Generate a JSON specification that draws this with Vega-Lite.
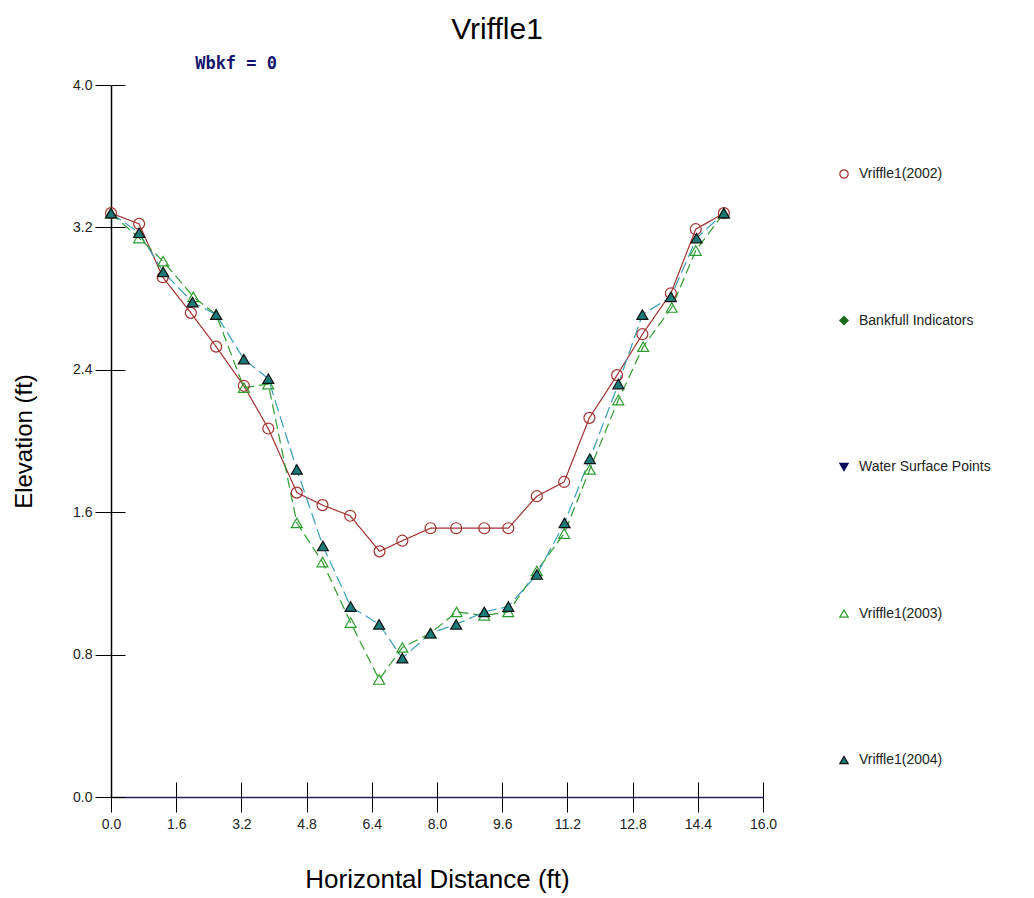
{
  "$schema": "https://vega.github.io/schema/vega-lite/v6.json",
  "width": 652,
  "height": 712,
  "autosize": {"type": "none"},
  "padding": {"left": 111, "top": 85, "right": 271, "bottom": 101},
  "background": "white",
  "config": {
    "view": {"stroke": null},
    "font": "Liberation Sans"
  },
  "title": {
    "text": "Vriffle1",
    "fontSize": 30,
    "fontWeight": "normal",
    "font": "Liberation Sans",
    "color": "#000000",
    "anchor": "middle",
    "dx": 60,
    "offset": 10
  },
  "resolve": {"axis": {"x": "independent", "y": "independent"}},
  "data": {
    "values": [
      {"series": "Vriffle1(2002)", "x": 0.0, "y": 3.28},
      {"series": "Vriffle1(2002)", "x": 0.69, "y": 3.22},
      {"series": "Vriffle1(2002)", "x": 1.27, "y": 2.92},
      {"series": "Vriffle1(2002)", "x": 1.96, "y": 2.72},
      {"series": "Vriffle1(2002)", "x": 2.58, "y": 2.53},
      {"series": "Vriffle1(2002)", "x": 3.26, "y": 2.31},
      {"series": "Vriffle1(2002)", "x": 3.86, "y": 2.07},
      {"series": "Vriffle1(2002)", "x": 4.56, "y": 1.71},
      {"series": "Vriffle1(2002)", "x": 5.19, "y": 1.64},
      {"series": "Vriffle1(2002)", "x": 5.87, "y": 1.58},
      {"series": "Vriffle1(2002)", "x": 6.59, "y": 1.38},
      {"series": "Vriffle1(2002)", "x": 7.15, "y": 1.44},
      {"series": "Vriffle1(2002)", "x": 7.84, "y": 1.51},
      {"series": "Vriffle1(2002)", "x": 8.47, "y": 1.51},
      {"series": "Vriffle1(2002)", "x": 9.16, "y": 1.51},
      {"series": "Vriffle1(2002)", "x": 9.75, "y": 1.51},
      {"series": "Vriffle1(2002)", "x": 10.45, "y": 1.69},
      {"series": "Vriffle1(2002)", "x": 11.12, "y": 1.77},
      {"series": "Vriffle1(2002)", "x": 11.74, "y": 2.13},
      {"series": "Vriffle1(2002)", "x": 12.42, "y": 2.37},
      {"series": "Vriffle1(2002)", "x": 13.04, "y": 2.6},
      {"series": "Vriffle1(2002)", "x": 13.74, "y": 2.83},
      {"series": "Vriffle1(2002)", "x": 14.35, "y": 3.19},
      {"series": "Vriffle1(2002)", "x": 15.04, "y": 3.28},
      {"series": "Vriffle1(2003)", "x": 0.0, "y": 3.28},
      {"series": "Vriffle1(2003)", "x": 0.69, "y": 3.14},
      {"series": "Vriffle1(2003)", "x": 1.28, "y": 3.01},
      {"series": "Vriffle1(2003)", "x": 2.02, "y": 2.81},
      {"series": "Vriffle1(2003)", "x": 2.58, "y": 2.71},
      {"series": "Vriffle1(2003)", "x": 3.26, "y": 2.3},
      {"series": "Vriffle1(2003)", "x": 3.86, "y": 2.32},
      {"series": "Vriffle1(2003)", "x": 4.56, "y": 1.54},
      {"series": "Vriffle1(2003)", "x": 5.19, "y": 1.32},
      {"series": "Vriffle1(2003)", "x": 5.88, "y": 0.98},
      {"series": "Vriffle1(2003)", "x": 6.58, "y": 0.66},
      {"series": "Vriffle1(2003)", "x": 7.15, "y": 0.84},
      {"series": "Vriffle1(2003)", "x": 7.84, "y": 0.92},
      {"series": "Vriffle1(2003)", "x": 8.48, "y": 1.04},
      {"series": "Vriffle1(2003)", "x": 9.16, "y": 1.02},
      {"series": "Vriffle1(2003)", "x": 9.75, "y": 1.04},
      {"series": "Vriffle1(2003)", "x": 10.45, "y": 1.27},
      {"series": "Vriffle1(2003)", "x": 11.12, "y": 1.48},
      {"series": "Vriffle1(2003)", "x": 11.75, "y": 1.84},
      {"series": "Vriffle1(2003)", "x": 12.45, "y": 2.23},
      {"series": "Vriffle1(2003)", "x": 13.06, "y": 2.53},
      {"series": "Vriffle1(2003)", "x": 13.76, "y": 2.75},
      {"series": "Vriffle1(2003)", "x": 14.35, "y": 3.07},
      {"series": "Vriffle1(2003)", "x": 15.04, "y": 3.28},
      {"series": "Vriffle1(2004)", "x": 0.0, "y": 3.28},
      {"series": "Vriffle1(2004)", "x": 0.69, "y": 3.17},
      {"series": "Vriffle1(2004)", "x": 1.28, "y": 2.95},
      {"series": "Vriffle1(2004)", "x": 2.0, "y": 2.78},
      {"series": "Vriffle1(2004)", "x": 2.58, "y": 2.71},
      {"series": "Vriffle1(2004)", "x": 3.26, "y": 2.46},
      {"series": "Vriffle1(2004)", "x": 3.86, "y": 2.35},
      {"series": "Vriffle1(2004)", "x": 4.56, "y": 1.84},
      {"series": "Vriffle1(2004)", "x": 5.2, "y": 1.41},
      {"series": "Vriffle1(2004)", "x": 5.88, "y": 1.07},
      {"series": "Vriffle1(2004)", "x": 6.58, "y": 0.97},
      {"series": "Vriffle1(2004)", "x": 7.15, "y": 0.78},
      {"series": "Vriffle1(2004)", "x": 7.84, "y": 0.92},
      {"series": "Vriffle1(2004)", "x": 8.47, "y": 0.97},
      {"series": "Vriffle1(2004)", "x": 9.16, "y": 1.04},
      {"series": "Vriffle1(2004)", "x": 9.75, "y": 1.07},
      {"series": "Vriffle1(2004)", "x": 10.45, "y": 1.25},
      {"series": "Vriffle1(2004)", "x": 11.13, "y": 1.54},
      {"series": "Vriffle1(2004)", "x": 11.75, "y": 1.9},
      {"series": "Vriffle1(2004)", "x": 12.45, "y": 2.32},
      {"series": "Vriffle1(2004)", "x": 13.04, "y": 2.71},
      {"series": "Vriffle1(2004)", "x": 13.74, "y": 2.81},
      {"series": "Vriffle1(2004)", "x": 14.37, "y": 3.14},
      {"series": "Vriffle1(2004)", "x": 15.04, "y": 3.28}
    ]
  },
  "layer": [
    {
      "mark": {"type": "line", "strokeWidth": 1.2},
      "encoding": {
        "x": {
          "field": "x", "type": "quantitative",
          "scale": {"domain": [0, 16], "nice": false, "zero": false},
          "axis": {
            "orient": "bottom",
            "title": "Horizontal Distance (ft)",
            "values": [0, 1.6, 3.2, 4.8, 6.4, 8.0, 9.6, 11.2, 12.8, 14.4, 16.0],
            "format": ".1f",
            "grid": false,
            "labelFlush": false,
            "labelOverlap": false,
            "domainColor": "#22225a",
            "domainWidth": 1.5,
            "tickColor": "#000000",
            "tickSize": 15,
            "labelFontSize": 14,
            "labelColor": "#222222",
            "labelFont": "Liberation Sans",
            "labelPadding": 5,
            "titleFontSize": 26,
            "titleFontWeight": "normal",
            "titleFont": "Liberation Sans",
            "titleColor": "#000000",
            "titlePadding": 35
          }
        },
        "y": {
          "field": "y", "type": "quantitative",
          "scale": {"domain": [0, 4], "nice": false},
          "axis": {
            "orient": "left",
            "title": "Elevation (ft)",
            "values": [0, 0.8, 1.6, 2.4, 3.2, 4.0],
            "format": ".1f",
            "grid": false,
            "labelFlush": false,
            "labelOverlap": false,
            "domainColor": "#000000",
            "domainWidth": 1.5,
            "tickColor": "#000000",
            "tickSize": 16,
            "labelFontSize": 14,
            "labelFont": "Liberation Sans",
            "labelColor": "#222222",
            "labelPadding": 3,
            "titleFontSize": 24,
            "titleFontWeight": "normal",
            "titleFont": "Liberation Sans",
            "titleColor": "#000000",
            "titlePadding": 36
          }
        },
        "color": {
          "field": "series", "type": "nominal",
          "scale": {"domain": ["Vriffle1(2002)", "Vriffle1(2003)", "Vriffle1(2004)"], "range": ["#a03232", "#2f9a2f", "#3a9fb3"]},
          "legend": null
        },
        "strokeDash": {
          "field": "series", "type": "nominal",
          "scale": {"domain": ["Vriffle1(2002)", "Vriffle1(2003)", "Vriffle1(2004)"], "range": [[1, 0], [10, 5], [12, 5]]},
          "legend": null
        },
        "detail": {"field": "series"}
      }
    },
    {
      "mark": {"type": "point", "filled": false, "strokeWidth": 1.2, "opacity": 1, "size": 120},
      "encoding": {
        "x": {"field": "x", "type": "quantitative", "axis": null},
        "y": {"field": "y", "type": "quantitative", "axis": null},
        "shape": {
          "field": "series", "type": "nominal",
          "scale": {
            "domain": ["Vriffle1(2002)", "Bankfull Indicators", "Water Surface Points", "Vriffle1(2003)", "Vriffle1(2004)"],
            "range": ["circle", "diamond", "triangle-down", "triangle-up", "triangle-up"]
          },
          "legend": {
            "title": null,
            "orient": "none",
            "legendX": 726,
            "legendY": 82,
            "labelFontSize": 14,
            "labelFont": "Liberation Sans",
            "labelColor": "#222222",
            "symbolSize": 70,
            "rowPadding": 132.5,
            "labelOffset": 8,
            "symbolStrokeWidth": 1.2
          }
        },
        "stroke": {
          "field": "series", "type": "nominal",
          "scale": {
            "domain": ["Vriffle1(2002)", "Bankfull Indicators", "Water Surface Points", "Vriffle1(2003)", "Vriffle1(2004)"],
            "range": ["#a03232", "#1d6b1d", "#0b0b5c", "#2f9a2f", "#111111"]
          },
          "legend": {
            "title": null,
            "orient": "none",
            "legendX": 726,
            "legendY": 82,
            "labelFontSize": 14,
            "labelFont": "Liberation Sans",
            "labelColor": "#222222",
            "symbolSize": 70,
            "rowPadding": 132.5,
            "labelOffset": 8,
            "symbolStrokeWidth": 1.2
          }
        },
        "fill": {
          "field": "series", "type": "nominal",
          "scale": {
            "domain": ["Vriffle1(2002)", "Bankfull Indicators", "Water Surface Points", "Vriffle1(2003)", "Vriffle1(2004)"],
            "range": ["transparent", "#1d6b1d", "#0b0b5c", "transparent", "#1a7a78"]
          },
          "legend": {
            "title": null,
            "orient": "none",
            "legendX": 726,
            "legendY": 82,
            "labelFontSize": 14,
            "labelFont": "Liberation Sans",
            "labelColor": "#222222",
            "symbolSize": 70,
            "rowPadding": 132.5,
            "labelOffset": 8,
            "symbolStrokeWidth": 1.2
          }
        }
      }
    },
    {
      "data": {"values": [{"label": "Wbkf = 0"}]},
      "mark": {"type": "text", "font": "DejaVu Sans Mono", "fontWeight": "bold", "fontSize": 17, "color": "#14146e", "align": "center", "baseline": "middle"},
      "encoding": {
        "x": {
          "datum": 3.07, "type": "quantitative",
          "axis": {
            "orient": "bottom",
            "values": [0, 1.6, 3.2, 4.8, 6.4, 8.0, 9.6, 11.2, 12.8, 14.4, 16.0],
            "title": null, "labels": false, "domain": false, "grid": false,
            "tickSize": -15, "tickColor": "#000000"
          }
        },
        "y": {
          "datum": 4.12, "type": "quantitative",
          "axis": {
            "orient": "left",
            "values": [0, 0.8, 1.6, 2.4, 3.2, 4.0],
            "title": null, "labels": false, "domain": false, "grid": false,
            "tickSize": -14, "tickColor": "#000000"
          }
        },
        "text": {"field": "label"}
      }
    }
  ]
}
